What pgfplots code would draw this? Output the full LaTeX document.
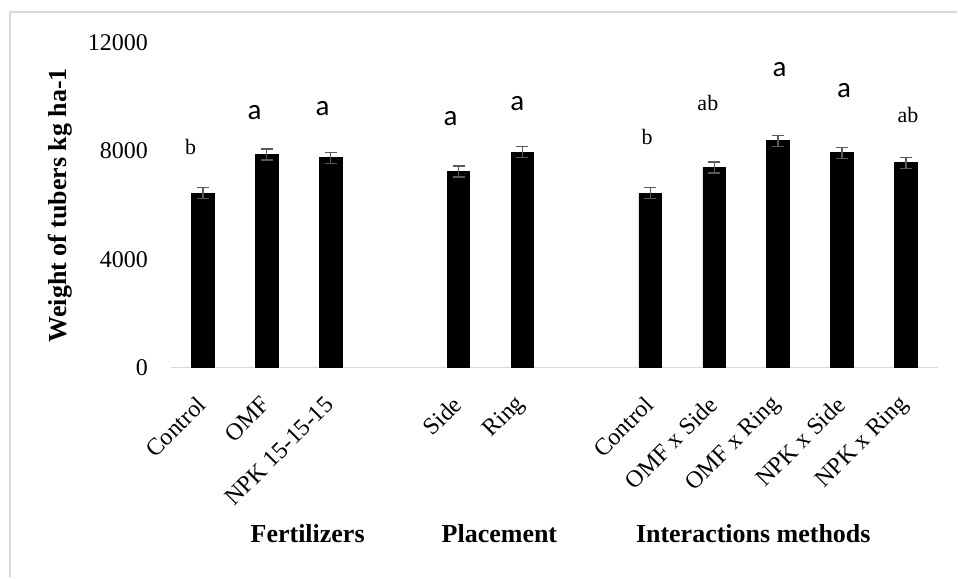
\documentclass[border=0pt]{standalone}
\usepackage{fontspec}
\setmainfont{Liberation Serif}
\newfontfamily\calibri{Carlito}
\usepackage{pgfplots}
\usepackage{pgfplotstable}
\pgfplotsset{compat=1.18}
\definecolor{axgray}{HTML}{D9D9D9}
\definecolor{errgray}{HTML}{595959}
\pgfplotstableread{
x y e
0 6443 205
1 7869 205
2 7746 205
4 7242 205
5 7955 205
7 6443 205
8 7389 205
9 8373 205
10 7930 205
11 7561 205
}\datatable
\begin{document}
\begin{tikzpicture}
\path (0,0) rectangle (479pt,289pt);
\draw[axgray, line width=1pt] (5pt,0pt) -- (5pt,283pt) -- (479pt,283pt);
\begin{axis}[
  at={(85.5pt,105pt)}, anchor=south west,
  scale only axis, width=384pt, height=162.65pt,
  xmin=-0.5, xmax=11.5, ymin=0, ymax=12000,
  axis x line*=bottom, axis y line*=left,
  x axis line style={axgray, line width=0.85pt, -},
  y axis line style={draw=none},
  tick style={draw=none},
  major tick length=0pt,
  clip=false,
  ybar, bar width=11.35pt,
  ytick={0,4000,8000,12000},
  scaled y ticks=false,
  /pgf/number format/1000 sep={},
  /pgf/number format/assume math mode=true,
  yticklabel style={anchor=east, xshift=-8pt, font=\fontsize{12}{14}\selectfont},
  xtick={0,1,2,4,5,7,8,9,10,11},
  xticklabels={Control,OMF,NPK 15-15-15,Side,Ring,Control,OMF x Side,OMF x Ring,NPK x Side,NPK x Ring},
  xticklabel style={xshift=-0.5pt, yshift=-16.5pt, rotate=45, anchor=east, inner sep=0pt, font=\fontsize{12}{14}\selectfont},
  ylabel={Weight of tubers kg ha-1},
  every axis y label/.style={at={(axis description cs:-0.1445,0.5)}, rotate=90, anchor=center, font=\bfseries\fontsize{13}{15}\selectfont},
]
\addplot[fill=black, draw=black,
  error bars/.cd, y dir=both, y explicit,
  error bar style={errgray, line width=0.75pt},
  error mark options={rotate=90, mark size=3pt, errgray, line width=0.75pt}]
  table[x=x, y=y, y error=e] {\datatable};

\node[font=\fontsize{11}{13}\selectfont] at (axis cs:-0.19,8139) {b};
\node[font=\calibri\fontsize{14.5}{16}\selectfont] at (axis cs:0.81,9430) {a};
\node[font=\calibri\fontsize{14.5}{16}\selectfont] at (axis cs:1.875,9553) {a};
\node[font=\calibri\fontsize{14.5}{16}\selectfont] at (axis cs:3.875,9184) {a};
\node[font=\calibri\fontsize{14.5}{16}\selectfont] at (axis cs:4.92,9738) {a};
\node[font=\fontsize{11}{13}\selectfont] at (axis cs:6.95,8508) {b};
\node[font=\fontsize{11}{13}\selectfont] at (axis cs:7.9,9762) {ab};
\node[font=\calibri\fontsize{14.5}{16}\selectfont] at (axis cs:9.02,11020) {a};
\node[font=\calibri\fontsize{14.5}{16}\selectfont] at (axis cs:10.03,10229) {a};
\node[font=\fontsize{11}{13}\selectfont] at (axis cs:11.03,9333) {ab};

\node[anchor=base, font=\bfseries\fontsize{13}{15}\selectfont] at (axis cs:1.64,-6456) {Fertilizers};
\node[anchor=base, font=\bfseries\fontsize{13}{15}\selectfont] at (axis cs:4.64,-6456) {Placement};
\node[anchor=base, font=\bfseries\fontsize{13}{15}\selectfont] at (axis cs:8.61,-6456) {Interactions methods};
\end{axis}
\end{tikzpicture}
\end{document}
